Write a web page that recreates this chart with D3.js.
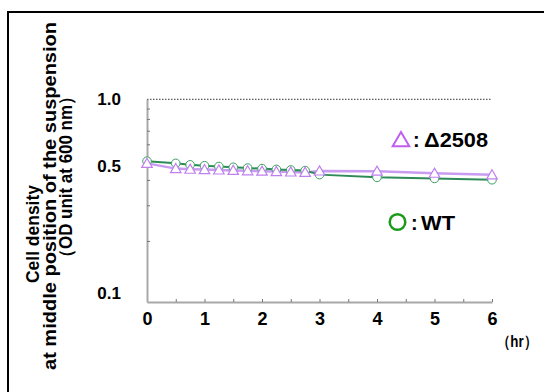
<!DOCTYPE html>
<html><head><meta charset="utf-8">
<script src="https://cdn.jsdelivr.net/npm/d3@7"></script>
<style>
body{margin:0;background:#fff;}
text{font-family:"Liberation Sans",Arial,sans-serif;font-weight:bold;}
</style></head>
<body><svg id="c" width="544" height="392"></svg>
<script>
const hours = [0,0.5,0.75,1,1.25,1.5,1.75,2,2.25,2.5,2.75,3,4,5,6];
const wt = [0.495,0.483,0.475,0.470,0.466,0.462,0.458,0.455,0.451,0.448,0.445,0.425,0.412,0.407,0.401];
const d2508 = [0.483,0.455,0.452,0.450,0.448,0.446,0.444,0.442,0.440,0.438,0.436,0.443,0.442,0.432,0.424];
const yTickLabels = [0.1,0.5,1.0];
const yMinorTicks = [0.2,0.3,0.4,0.6,0.7,0.8,0.9];
const xTicks = [0,0.5,1,1.5,2,2.5,3,3.5,4,4.5,5,5.5,6];
const yTitleLines = ["Cell density","at middle position of the suspension","（OD unit at 600 nm）"];

const svg = d3.select("#c");
svg.append("rect").attr("x",8).attr("y",12).attr("width",560).attr("height",400)
  .attr("fill","none").attr("stroke","#000").attr("stroke-width",2);

const x = d3.scaleLinear().domain([0,6]).range([147,492]);
const y = d3.scaleLog().domain([0.1,1]).range([302,99.3]);
const axisCol = "#a8a8a8";

// dotted 1.0 line
svg.append("line").attr("x1",x(0)).attr("x2",x(6)).attr("y1",y(1)).attr("y2",y(1))
  .attr("stroke","#333").attr("stroke-width",1).attr("stroke-dasharray","1.5,1.5");

// x axis
const gx = svg.append("g").attr("transform",`translate(0,${y(0.1)})`)
  .call(d3.axisBottom(x).tickValues(xTicks).tickSizeInner(-3).tickSizeOuter(0).tickPadding(6)
    .tickFormat(d=>Number.isInteger(d)?d3.format("d")(d):""));
gx.select(".domain").attr("stroke",axisCol).attr("stroke-width",2);
gx.selectAll(".tick line").attr("stroke","#777");
gx.selectAll(".tick text").attr("font-size",18).attr("fill","#000").attr("dy","0.95em");

// y axis
const labelOffset = {"0.1":-9,"0.5":6,"1":0};
const gy = svg.append("g").attr("transform",`translate(${x(0)},0)`)
  .call(d3.axisLeft(y).tickValues(yTickLabels).tickSize(0).tickPadding(26).tickFormat(d3.format(".1f")));
gy.select(".domain").attr("stroke",axisCol).attr("stroke-width",2);
gy.selectAll(".tick text").attr("font-size",17).attr("fill","#000")
  .attr("transform",d=>`translate(0,${labelOffset[String(d)]||0})`);
const gm = svg.append("g").attr("transform",`translate(${x(0)},0)`)
  .call(d3.axisRight(y).tickValues(yMinorTicks).tickSize(3).tickFormat(""));
gm.select(".domain").remove();
gm.selectAll(".tick line").attr("stroke","#777");

// y title
const tpos = [{cx:33,cy:234,len:98},{cx:50,cy:196,len:348},{cx:66,cy:177,len:178}];
yTitleLines.forEach((t,i)=>{
  svg.append("text").attr("transform",`translate(${tpos[i].cx},${tpos[i].cy}) rotate(-90)`)
    .attr("text-anchor","middle").attr("dominant-baseline","central")
    .attr("font-size",18).attr("textLength",tpos[i].len).attr("lengthAdjust","spacingAndGlyphs").text(t);
});
svg.append("text").attr("x",497).attr("y",347).attr("font-size",16)
  .attr("textLength",40).attr("lengthAdjust","spacingAndGlyphs").text("（hr）");

// lines
const wtCol = "#2e8b57", dCol = "#c89cf0";
const line = d3.line().x((d,i)=>x(hours[i])).y(d=>y(d));
svg.append("path").datum(d2508).attr("d",line).attr("fill","none").attr("stroke",dCol).attr("stroke-width",2.5);
svg.append("path").datum(wt).attr("d",line).attr("fill","none").attr("stroke",wtCol).attr("stroke-width",2);

// markers
svg.selectAll(".wt").data(wt).enter().append("circle")
  .attr("cx",(d,i)=>x(hours[i])).attr("cy",d=>y(d)).attr("r",4.3)
  .attr("fill","#fff").attr("stroke","#3aa060").attr("stroke-width",1);
const tri = d3.symbol().type(d3.symbolTriangle).size(48);
svg.selectAll(".d").data(d2508).enter().append("path")
  .attr("d",tri).attr("transform",(d,i)=>`translate(${x(hours[i])},${y(d)+1})`)
  .attr("fill","#fff").attr("stroke","#c080f0").attr("stroke-width",1.2);

// legend
const legTri = d3.symbol().type(d3.symbolTriangle).size(120);
svg.append("path").attr("d",legTri).attr("transform","translate(401,141.5)")
  .attr("fill","none").attr("stroke","#c060f0").attr("stroke-width",2);
svg.append("text").attr("x",413).attr("y",147).attr("font-size",20).text(":");
svg.append("text").attr("x",424).attr("y",147).attr("font-size",20)
  .attr("textLength",64).attr("lengthAdjust","spacingAndGlyphs").text("Δ2508");
svg.append("circle").attr("cx",397.5).attr("cy",222).attr("r",7.8)
  .attr("fill","none").attr("stroke","#1a9a1a").attr("stroke-width",2.5);
svg.append("text").attr("x",411).attr("y",230).attr("font-size",20).text(":");
svg.append("text").attr("x",421).attr("y",230).attr("font-size",20)
  .attr("textLength",34).attr("lengthAdjust","spacingAndGlyphs").text("WT");
</script></body></html>
